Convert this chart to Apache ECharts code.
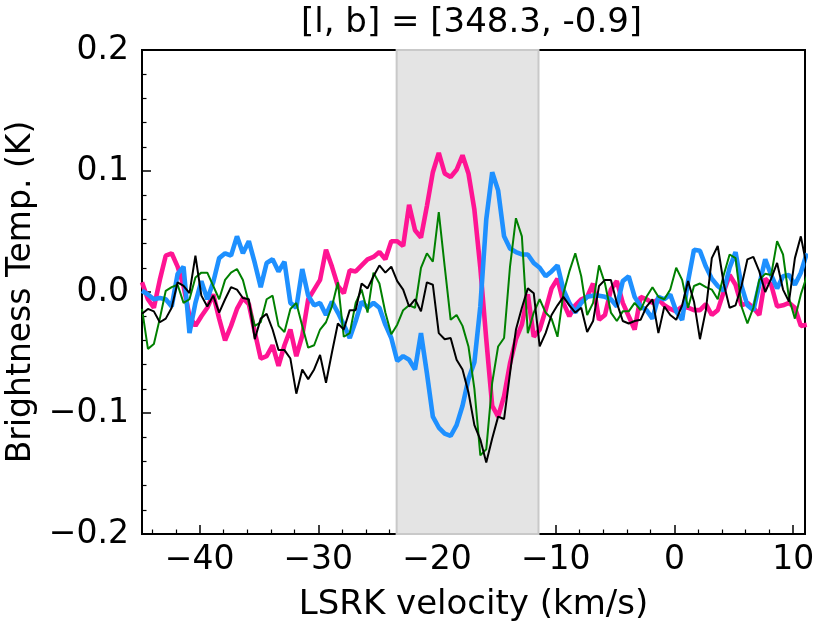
<!DOCTYPE html>
<html>
<head>
<meta charset="utf-8">
<script src="https://cdn.jsdelivr.net/npm/echarts@6/dist/echarts.min.js"></script>
<style>
html,body{margin:0;padding:0;background:#fff;}
#chart{width:830px;height:623px;}
</style>
</head>
<body>
<div id="chart"></div>
<script>
// spectrum channels: first velocity and channel width (km/s)
const V0 = -44.85;
const DV = 0.5;

// brightness temperature (K) per channel
const pink = [
  0.008, -0.006, -0.013, 0.010, 0.030, 0.032, 0.021, 0.005, -0.020, -0.028,
  -0.020, -0.013, -0.002, -0.022, -0.040, -0.028, -0.014, -0.005, -0.010, -0.033,
  -0.055, -0.053, -0.044, -0.061, -0.044, -0.031, -0.053, -0.036, -0.006,
  0.002, 0.010, 0.035, 0.021, 0.005, -0.001, 0.018, 0.017, 0.022, 0.027,
  0.029, 0.033, 0.027, 0.042, 0.042, 0.038, 0.072, 0.051, 0.045, 0.071,
  0.099, 0.115, 0.098, 0.095, 0.101, 0.113, 0.098, 0.068,
  0.020, -0.039, -0.094, -0.103, -0.086, -0.059, -0.039, -0.027, -0.002, -0.037,
  -0.031, -0.015, 0.003, 0.011, -0.009, -0.020, -0.011, -0.006, -0.004, 0.007,
  -0.023, -0.019, 0.002, 0.009, -0.009, -0.020, -0.031,
  -0.004, -0.006, -0.009, -0.006, -0.011, -0.014, -0.016, -0.012, -0.013, -0.015,
  -0.015, -0.010, -0.019, -0.015, 0.000, 0.014, 0.006, -0.011, -0.009, -0.013,
  -0.019, 0.011, 0.006, -0.012, -0.011, -0.009, -0.013, -0.028, -0.027
];
const blue = [
  0.001, -0.002, -0.006, -0.005, -0.006, -0.012, 0.015, 0.021, -0.034, -0.009,
  0.009, -0.006, 0.008, 0.028, 0.032, 0.030, 0.046, 0.032, 0.042, 0.024,
  0.004, 0.024, 0.027, 0.017, 0.025, -0.009, -0.013, 0.019, -0.003,
  -0.011, -0.009, -0.019, -0.008, -0.017, -0.027, -0.038, -0.024, -0.008, -0.013,
  -0.009, -0.013, -0.027, -0.038, -0.057, -0.053, -0.056, -0.064, -0.034, -0.067,
  -0.103, -0.112, -0.117, -0.119, -0.110, -0.094, -0.072, -0.058,
  -0.012, 0.060, 0.099, 0.084, 0.046, 0.036, 0.033, 0.031, 0.031, 0.024,
  0.020, 0.013, 0.017, 0.022, 0.002, -0.009, -0.017, -0.009, -0.004, -0.003,
  -0.003, -0.004, -0.006, -0.012, 0.009, 0.013, -0.004,
  -0.012, -0.015, -0.022, -0.004, -0.006, -0.002, -0.016, -0.023, 0.009, 0.035,
  0.034, 0.021, 0.011, 0.005, 0.001, 0.020, 0.033, 0.005, -0.011, -0.015,
  0.006, 0.027, 0.014, 0.003, 0.013, 0.014, 0.006, 0.016, 0.032
];
const green = [
  -0.014, -0.047, -0.043, -0.022, 0.001, 0.004, 0.006, -0.009, -0.006, 0.012,
  0.016, 0.016, 0.005, -0.006, 0.010, 0.016, 0.019, 0.010, -0.009, -0.028,
  -0.025, -0.006, -0.003, -0.028, -0.033, -0.014, -0.009, -0.028, -0.046,
  -0.044, -0.031, -0.025, -0.012, 0.008, -0.037, -0.034, -0.009, 0.002, -0.017,
  0.016, 0.007, -0.017, -0.035, -0.027, -0.015, -0.011, -0.013, 0.020, 0.032,
  0.025, 0.066, 0.021, -0.023, -0.019, -0.028, -0.045, -0.080,
  -0.135, -0.130, -0.075, -0.045, -0.038, 0.021, 0.061, 0.046, -0.034, -0.017,
  -0.006, -0.017, -0.022, -0.037, -0.001, 0.017, 0.032, 0.013, -0.019, -0.009,
  0.022, 0.007, -0.017, -0.024, -0.016, -0.016, -0.009,
  -0.015, -0.004, 0.004, -0.004, -0.006, 0.002, 0.020, 0.010, -0.013, 0.005,
  0.007, 0.004, 0.002, -0.006, 0.014, 0.031, 0.028, -0.012, -0.026, -0.013,
  0.010, 0.015, 0.014, 0.042, 0.031, -0.005, -0.022, -0.002, 0.013
];
const black = [
  -0.018, -0.014, -0.016, -0.025, -0.022, -0.013, 0.008, 0.005, -0.001, 0.030,
  -0.003, -0.012, -0.003, -0.017, -0.006, 0.004, 0.002, -0.005, -0.006, -0.039,
  -0.022, -0.018, -0.031, -0.048, -0.048, -0.055, -0.084, -0.064, -0.072,
  -0.064, -0.052, -0.075, -0.050, -0.026, -0.031, -0.015, -0.015, 0.007, 0.003,
  0.013, 0.022, 0.016, 0.021, 0.009, 0.002, -0.012, -0.006, -0.016, 0.008,
  0.006, -0.034, -0.039, -0.038, -0.056, -0.064, -0.083, -0.110,
  -0.122, -0.141, -0.121, -0.103, -0.105, -0.067, -0.031, -0.013, 0.003, -0.001,
  -0.045, -0.034, -0.019, -0.011, -0.004, -0.011, -0.017, -0.013, -0.033, -0.024,
  0.005, 0.010, 0.010, -0.009, -0.024, -0.026, -0.024,
  -0.023, -0.012, -0.006, -0.034, -0.012, -0.019, -0.023, -0.011, 0.009, -0.008,
  -0.039, -0.015, 0.028, 0.038, 0.007, -0.013, -0.011, 0.005, 0.027, 0.029,
  0.017, 0.000, 0.011, 0.024, 0.002, -0.008, 0.028, 0.046, 0.021
];

// tick labels and the shaded velocity window
const xTicks = [-40, -30, -20, -10, 0, 10];
const xMinorTicks = [-44, -42, -38, -36, -34, -32, -28, -26, -24, -22, -18, -16, -14, -12, -8, -6, -4, -2, 2, 4, 6, 8];
const band = [-23.4, -11.45];
const titleText = '[l, b] = [348.3, -0.9]';

const velocity = pink.map((_, i) => +(V0 + i * DV).toFixed(2));
const pairs = arr => velocity.map((v, i) => [v, arr[i]]);

const FONT = 'DejaVu Sans';
const minus = v => (Math.abs(v) < 1e-9 ? '0' : (v < 0 ? '\u2212' : '') + Math.abs(v));

const chart = echarts.init(document.getElementById('chart'), null, {renderer: 'canvas'});
chart.setOption({
  animation: false,
  backgroundColor: '#fff',
  textStyle: {fontFamily: FONT},
  title: {
    text: titleText,
    left: 296,
    top: 1,
    textStyle: {fontFamily: FONT, fontSize: 34, fontWeight: 'normal', color: '#000'}
  },
  grid: {
    left: 142, right: 25, top: 50, bottom: 89,
    containLabel: false, outerBoundsMode: 'none',
    show: true, borderColor: '#000', borderWidth: 2, backgroundColor: 'transparent'
  },
  xAxis: [{
    type: 'value', min: -44.85, max: 11,
    name: 'LSRK velocity (km/s)', nameLocation: 'middle', nameGap: 54,
    nameTextStyle: {fontFamily: FONT, fontSize: 34, color: '#000'},
    axisLine: {show: true, onZero: false, lineStyle: {color: '#000', width: 2}},
    axisTick: {inside: true, length: 9, customValues: xTicks, lineStyle: {color: '#000', width: 1.5}},
    axisLabel: {customValues: xTicks, fontFamily: FONT, fontSize: 33, color: '#000', margin: 10,
      formatter: v => minus(v)},
    splitLine: {show: false}
  }, {
    type: 'value', min: -44.85, max: 11, position: 'bottom',
    axisLine: {show: false, onZero: false},
    axisTick: {inside: true, length: 4.5, customValues: xMinorTicks, lineStyle: {color: '#000', width: 1.2}},
    axisLabel: {show: false},
    splitLine: {show: false}
  }],
  yAxis: {
    type: 'value', min: -0.2, max: 0.2, interval: 0.1,
    name: 'Brightness Temp. (K)', nameLocation: 'middle', nameGap: 103, nameRotate: 90,
    nameTextStyle: {fontFamily: FONT, fontSize: 33, color: '#000'},
    axisLine: {show: true, onZero: false, lineStyle: {color: '#000', width: 2}},
    axisTick: {inside: true, length: 9, lineStyle: {color: '#000', width: 1.5}},
    minorTick: {show: true, splitNumber: 5, length: 4.5, lineStyle: {color: '#000', width: 1.2}},
    axisLabel: {fontFamily: FONT, fontSize: 33, color: '#000', margin: 13,
      formatter: v => (Math.abs(v) < 1e-9 ? '0.0' : (v < 0 ? '\u2212' : '') + Math.abs(v).toFixed(1))},
    splitLine: {show: false}
  },
  series: [{
    type: 'line', data: pairs(pink), showSymbol: false, z: 2,
    lineStyle: {color: '#ff1493', width: 4.6}, itemStyle: {color: '#ff1493'},
    markArea: {
      silent: true,
      itemStyle: {color: '#e4e4e4', borderColor: '#c9c9c9', borderWidth: 2},
      data: [[{xAxis: band[0]}, {xAxis: band[1]}]]
    }
  }, {
    type: 'line', data: pairs(blue), showSymbol: false, z: 3,
    lineStyle: {color: '#1e90ff', width: 4.6}, itemStyle: {color: '#1e90ff'}
  }, {
    type: 'line', data: pairs(green), showSymbol: false, z: 4,
    lineStyle: {color: '#008000', width: 2}, itemStyle: {color: '#008000'}
  }, {
    type: 'line', data: pairs(black), showSymbol: false, z: 5,
    lineStyle: {color: '#000', width: 2}, itemStyle: {color: '#000'}
  }]
});
</script>
</body>
</html>
